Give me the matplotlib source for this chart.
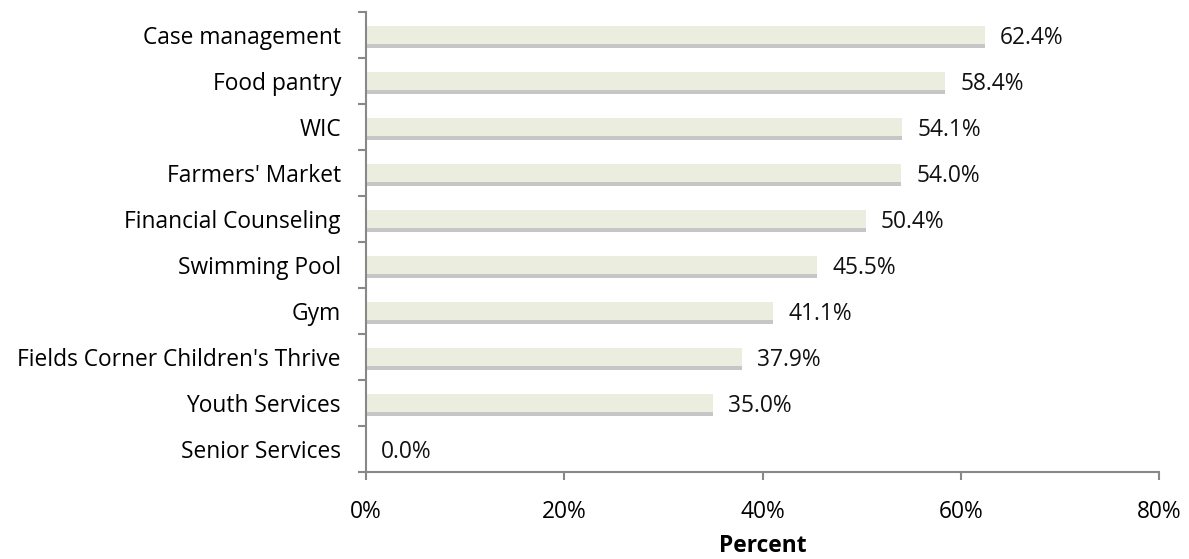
import matplotlib.pyplot as plt
import matplotlib.patheffects as pe
from matplotlib.ticker import PercentFormatter

# --- dados ---
categorias = ['Case management', 'Food pantry', 'WIC', "Farmers' Market",
              'Financial Counseling', 'Swimming Pool', 'Gym',
              "Fields Corner Children's Thrive", 'Youth Services', 'Senior Services']
percentuais = [62.4, 58.4, 54.1, 54.0, 50.4, 45.5, 41.1, 37.9, 35.0, 0.0]
ticks_x = [0, 20, 40, 60, 80]

plt.rcParams['font.family'] = ['Open Sans', 'DejaVu Sans']
FS = 16.4

fig = plt.figure(figsize=(11.89, 5.59), dpi=100)
ax = fig.add_axes([0.3078, 0.1556, 0.6670, 0.8229])

pos = list(range(len(categorias)))[::-1]
barras = ax.barh(pos, percentuais, height=0.4, color='#EBEEDF', zorder=2)
for b in barras:
    b.set_path_effects([pe.SimplePatchShadow(offset=(0, -2.5), shadow_rgbFace='#A0A0A0', alpha=0.6),
                        pe.Normal()])

for p, v in zip(pos, percentuais):
    ax.annotate(f'{v:.1f}%', xy=(v, p), xytext=(11, -2), textcoords='offset points',
                va='center', ha='left', fontsize=FS, color='#111111')

ax.set_xlim(0, 80)
ax.set_ylim(-0.5, len(categorias) - 0.5)
ax.set_yticks(pos)
ax.set_yticklabels(categorias, fontsize=FS)
ax.set_yticks([p - 0.5 for p in range(len(categorias) + 1)], minor=True)
ax.tick_params(axis='y', which='major', length=0, pad=18)
ax.tick_params(axis='y', which='minor', length=6, color='#888888', width=1.5)
ax.set_xticks(ticks_x)
ax.xaxis.set_major_formatter(PercentFormatter(decimals=0))
ax.tick_params(axis='x', length=6, color='#888888', width=1.5, labelsize=FS, pad=14)
ax.set_xlabel('Percent', fontsize=FS, fontweight='bold', labelpad=7)

for s in ['top', 'right']:
    ax.spines[s].set_visible(False)
for s in ['left', 'bottom']:
    ax.spines[s].set_color('#888888')
    ax.spines[s].set_linewidth(1.5)

fig.savefig('out.png', dpi=100)
